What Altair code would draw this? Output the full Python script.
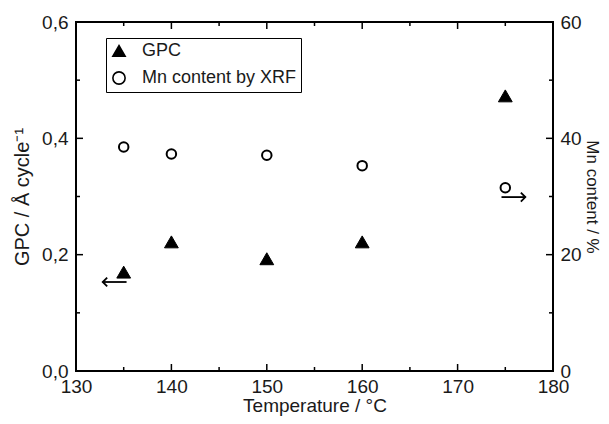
import altair as alt
import pandas as pd

# ---- data ----
temps = [135, 140, 150, 160, 175]
gpc = [0.170, 0.222, 0.193, 0.222, 0.473]
mn = [38.5, 37.3, 37.1, 35.3, 31.5]
series_names = ["GPC", "Mn content by XRF"]

x_major = [130, 140, 150, 160, 170, 180]
x_minor = [135, 145, 155, 165, 175]
gpc_major = [0.0, 0.2, 0.4, 0.6]
gpc_minor = [0.1, 0.3, 0.5]
mn_major = [0, 20, 40, 60]
mn_minor = [10, 30, 50]

# annotation arrows (on the GPC scale): start, tip, height
arrow_start = [135.3, 174.6]
arrow_tip = [132.8, 177.1]
arrow_y = [0.153, 0.299]

FONT = "Liberation Sans"
TXT = "#1a1a1a"
W, H = 477, 349

df_gpc = pd.DataFrame({"temp": temps, "val": gpc, "series": series_names[0]})
df_mn = pd.DataFrame({"temp": temps, "val": mn, "series": series_names[1]})
df_arrow = pd.DataFrame({"x0": arrow_start, "x1": arrow_tip, "y": arrow_y})
df_arrow_l = df_arrow.iloc[[0]]
df_arrow_r = df_arrow.iloc[[1]]

xscale = alt.Scale(domain=[130, 180], nice=False)
gscale = alt.Scale(domain=[0, 0.6], nice=False, zero=True)
mscale = alt.Scale(domain=[0, 60], nice=False, zero=True)
shape_scale = alt.Scale(domain=series_names, range=["triangle-up", "circle"])
fill_scale = alt.Scale(domain=series_names, range=["black", "white"])
stroke_scale = alt.Scale(domain=series_names, range=["black", "black"])

leg = alt.Legend(
    orient="none", legendX=30, legendY=16, title=None,
    strokeColor="black", padding=4, labelFont=FONT, labelFontSize=18,
    labelColor=TXT, symbolSize=150, symbolStrokeColor="black",
    symbolStrokeWidth=1.6, rowPadding=8, labelOffset=14, fillColor="white",
    labelLimit=400,
    labelExpr="datum.label + '\u2003'",
)

x_axis = alt.Axis(
    values=x_major, title="Temperature / °C", ticks=False, domain=False,
    labelPadding=6, titlePadding=0, grid=False, labelFlush=False,
    labelOverlap=False, titleFontSize=19,
)
g_axis = alt.Axis(
    values=gpc_major, orient="left", title="GPC / Å cycle⁻¹",
    ticks=False, domain=False, grid=False, labelPadding=8, titlePadding=9,
    titleFontSize=20, labelFlush=False, labelOverlap=False,
    labelExpr="replace(format(datum.value, '.1f'), '.', ',')")
m_axis = alt.Axis(
    values=mn_major, orient="right", title="Mn content / %",
    ticks=False, domain=False, grid=False, labelPadding=7, titlePadding=1,
    titleFontSize=17, labelFlush=False, labelOverlap=False)

X = lambda f: alt.X(f, scale=xscale, axis=x_axis)
YG = lambda f: alt.Y(f, scale=gscale, axis=g_axis)
YM = lambda f: alt.Y(f, scale=mscale, axis=m_axis)

tri = alt.Chart(df_gpc).mark_point(filled=True, size=190, stroke="black",
                                   strokeWidth=1, opacity=1).encode(
    x=X("temp:Q"), y=YG("val:Q"),
    shape=alt.Shape("series:N", scale=shape_scale, legend=leg),
    fill=alt.Fill("series:N", scale=fill_scale, legend=leg),
    stroke=alt.Stroke("series:N", scale=stroke_scale, legend=leg),
)

circ = alt.Chart(df_mn).mark_point(filled=True, size=90, strokeWidth=2,
                                   opacity=1).encode(
    x=X("temp:Q"), y=YM("val:Q"),
    shape=alt.Shape("series:N", scale=shape_scale, legend=leg),
    fill=alt.Fill("series:N", scale=fill_scale, legend=leg),
    stroke=alt.Stroke("series:N", scale=stroke_scale, legend=leg),
)

# arrows
shaft = alt.Chart(df_arrow).mark_rule(color="black", strokeWidth=1.8).encode(
    x=X("x0:Q"), x2="x1:Q", y=YG("y:Q"),
)
head_l = alt.Chart(df_arrow_l).mark_point(
    shape="M1,-1L0,0L1,1", size=80, filled=False, stroke="black", strokeWidth=1.8, opacity=1
).encode(x=X("x1:Q"), y=YG("y:Q"))
head_r = alt.Chart(df_arrow_r).mark_point(
    shape="M-1,-1L0,0L-1,1", size=80, filled=False, stroke="black", strokeWidth=1.8, opacity=1
).encode(x=X("x1:Q"), y=YG("y:Q"))


def yticks(vals, Yf, x0, x1):
    return alt.Chart(pd.DataFrame({"v": vals})).mark_rule(color="black", strokeWidth=1.5).encode(
        y=Yf("v:Q"), x=alt.value(x0), x2=alt.value(x1))


def xticks(vals, y0, y1):
    return alt.Chart(pd.DataFrame({"v": vals})).mark_rule(color="black", strokeWidth=1.5).encode(
        x=X("v:Q"), y=alt.value(y0), y2=alt.value(y1))


left_group = alt.layer(
    yticks(gpc_major, YG, 0, 7), yticks(gpc_minor, YG, 0, 4),
    xticks(x_major, H, H - 7), xticks(x_minor, H, H - 4),
    xticks(x_major, 0, 7), xticks(x_minor, 0, 4),
    shaft, head_l, head_r, tri,
)
right_group = alt.layer(
    yticks(mn_major, YM, W, W - 7), yticks(mn_minor, YM, W, W - 4),
    circ,
)

chart = alt.layer(left_group, right_group).resolve_scale(y="independent").properties(
    width=W, height=H,
    padding={"left": 68, "top": 14, "right": 48, "bottom": 45},
    autosize=alt.AutoSizeParams(type="none"),
).configure_view(stroke="black", strokeWidth=2).configure_axis(
    labelFont=FONT, labelFontSize=19, labelColor=TXT,
    titleFont=FONT, titleFontSize=18, titleColor=TXT, titleFontWeight="normal",
)

chart.save("out.html", embed_options={"renderer": "svg", "actions": False})
